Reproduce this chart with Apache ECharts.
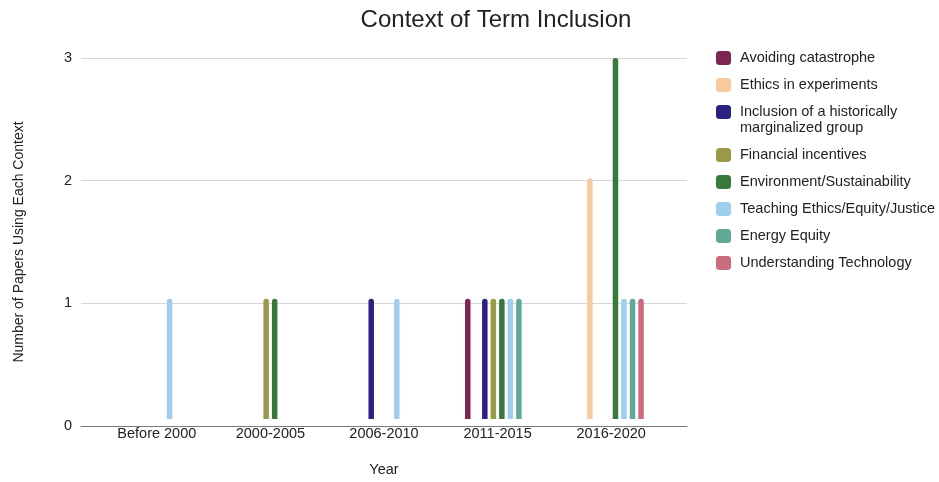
<!DOCTYPE html>
<html>
<head>
<meta charset="utf-8">
<script src="https://cdn.jsdelivr.net/npm/echarts@6/dist/echarts.min.js"></script>
<style>
  html, body { margin: 0; padding: 0; background: #fff; }
  #chart { width: 939px; height: 482px; }
</style>
</head>
<body>
<div id="chart"></div>
<script>
// Year buckets on the x axis
const years = ['Before 2000', '2000-2005', '2006-2010', '2011-2015', '2016-2020'];

// Paper counts per context, one value per year bucket
const avoidingCatastrophe   = [0, 0, 0, 1, 0];
const ethicsInExperiments   = [0, 0, 0, 0, 2];
const inclusionMarginalized = [0, 0, 1, 1, 0];
const financialIncentives   = [0, 1, 0, 1, 0];
const environmentSustain    = [0, 1, 0, 1, 3];
const teachingEthics        = [1, 0, 1, 1, 1];
const energyEquity          = [0, 0, 0, 1, 1];
const understandingTech     = [0, 0, 0, 0, 1];

const yTicks = [0, 1, 2, 3];

const contexts = [
  { name: 'Avoiding catastrophe', data: avoidingCatastrophe, color: '#7c2452' },
  { name: 'Ethics in experiments', data: ethicsInExperiments, color: '#f6ca9c' },
  { name: 'Inclusion of a historically marginalized group', data: inclusionMarginalized, color: '#2b2180' },
  { name: 'Financial incentives', data: financialIncentives, color: '#9b9847' },
  { name: 'Environment/Sustainability', data: environmentSustain, color: '#37793d' },
  { name: 'Teaching Ethics/Equity/Justice', data: teachingEthics, color: '#9ecdee' },
  { name: 'Energy Equity', data: energyEquity, color: '#61a996' },
  { name: 'Understanding Technology', data: understandingTech, color: '#c86c7e' }
];

const FONT = 'Liberation Sans, Arial, sans-serif';
const TEXT = '#222';

const legendText = { fontSize: 14.5, color: TEXT, fontFamily: FONT, lineHeight: 16, padding: [0, 0, 0, 4] };
const legendBase = {
  orient: 'vertical', left: 716, padding: 0,
  icon: 'roundRect', itemWidth: 15, itemHeight: 14, itemGap: 11,
  textStyle: legendText
};

const chart = echarts.init(document.getElementById('chart'), null, { renderer: 'canvas' });

chart.setOption({
  backgroundColor: '#fff',
  animation: false,
  title: {
    text: 'Context of Term Inclusion',
    left: 496, top: 8, padding: 0, textAlign: 'center',
    textStyle: { fontSize: 24, fontWeight: 'normal', color: TEXT, fontFamily: FONT }
  },
  legend: [
    Object.assign({}, legendBase, {
      top: 50,
      data: contexts.slice(0, 2).map(c => c.name)
    }),
    Object.assign({}, legendBase, {
      top: 88,
      // the long label wraps; a leading blank line keeps its first line level with the swatch
      formatter: name => name === contexts[2].name
        ? '\nInclusion of a historically\nmarginalized group' : name,
      data: contexts.slice(2).map(c => c.name)
    })
  ],
  grid: [
    // bars
    { left: 100, right: 271, top: 58, bottom: 56 },
    // gridlines and baseline, slightly wider than the bar area
    { left: 81, right: 252, top: 58, bottom: 56 }
  ],
  xAxis: [
    {
      gridIndex: 0, type: 'category', data: years,
      axisLine: { show: false }, axisTick: { show: false },
      axisLabel: { fontSize: 14.5, color: TEXT, fontFamily: FONT, margin: 7 },
      name: 'Year', nameLocation: 'middle', nameGap: 43,
      nameTextStyle: { fontSize: 14.5, color: TEXT, fontFamily: FONT }
    },
    {
      gridIndex: 1, type: 'category', data: [''],
      axisLine: { show: true, lineStyle: { color: '#7a7a7a', width: 1 } },
      axisTick: { show: false }, axisLabel: { show: false }
    }
  ],
  yAxis: [
    { gridIndex: 0, type: 'value', min: 0, max: 3, interval: 1, show: false },
    {
      gridIndex: 1, type: 'value', min: yTicks[0], max: yTicks[yTicks.length - 1], interval: 1,
      axisLine: { show: false }, axisTick: { show: false },
      axisLabel: { fontSize: 14.5, color: TEXT, fontFamily: FONT, margin: 9 },
      splitLine: { lineStyle: { color: '#d6d6d6', width: 1 } },
      name: 'Number of Papers Using Each Context', nameLocation: 'middle', nameGap: 55,
      nameTextStyle: { fontSize: 14, color: TEXT, fontFamily: FONT }
    }
  ],
  series: contexts.map(c => ({
    name: c.name,
    type: 'bar',
    xAxisIndex: 0, yAxisIndex: 0,
    data: c.data,
    barWidth: 5.5,
    barGap: '55%',
    itemStyle: { color: c.color, borderRadius: [3, 3, 0, 0] }
  }))
});
</script>
</body>
</html>
